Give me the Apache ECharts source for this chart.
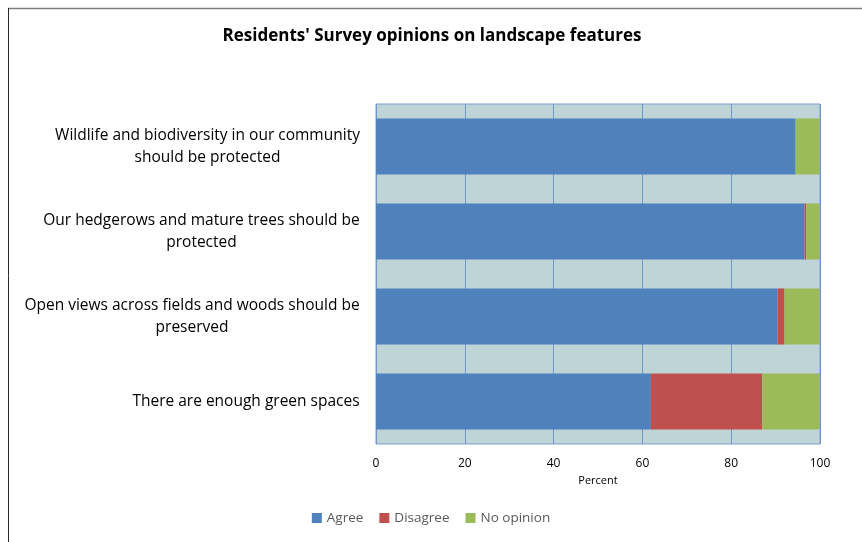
<!DOCTYPE html>
<html>
<head>
<meta charset="utf-8">
<script src="https://cdn.jsdelivr.net/npm/echarts@6/dist/echarts.min.js"></script>
<style>
html,body{margin:0;padding:0;background:#fff;}
#chart{width:862px;height:542px;}
</style>
</head>
<body>
<div id="chart"></div>
<script>
var categories = [
  "Wildlife and biodiversity in our community\nshould be protected",
  "Our hedgerows and mature trees should be\nprotected",
  "Open views across fields and woods should be\npreserved",
  "There are enough green spaces"
];
var agree = [94.5, 96.5, 90.4, 61.9];
var disagree = [0, 0.4, 1.6, 25.1];
var noOpinion = [5.5, 3.1, 8.0, 13.0];
var xTicks = [0, 20, 40, 60, 80, 100];

var FONT = "'Open Sans', 'Noto Sans', sans-serif";
var LABEL_SIZE = 15.5;

// measure widths so multi-line labels are centred within their own block
var cv = document.createElement('canvas').getContext('2d');
cv.font = LABEL_SIZE + 'px ' + FONT;
var rich = {};
categories.forEach(function (c, i) {
  var w = 0;
  c.split('\n').forEach(function (l) { w = Math.max(w, cv.measureText(l).width); });
  rich['l' + i] = { width: Math.ceil(w), align: 'center', fontSize: LABEL_SIZE, fontFamily: FONT, color: '#000', lineHeight: 22 };
});

var chart = echarts.init(document.getElementById('chart'), null, { renderer: 'canvas' });
chart.setOption({
  animation: false,
  backgroundColor: '#fff',
  graphic: [
    { type: 'line', silent: true, shape: { x1: 8, y1: 8.5, x2: 870, y2: 8.5 }, style: { stroke: '#7f7f7f', lineWidth: 1.5 } },
    { type: 'line', silent: true, shape: { x1: 8.5, y1: 8, x2: 8.5, y2: 560 }, style: { stroke: '#2a2a2a', lineWidth: 1 } }
  ],
  title: {
    text: "Residents' Survey opinions on landscape features",
    left: 427, top: 23, textAlign: 'center',
    textStyle: { fontFamily: FONT, fontWeight: 'bold', fontSize: 17, color: '#000' }
  },
  legend: {
    bottom: 12, left: 'center',
    itemWidth: 10, itemHeight: 10, itemGap: 16,
    icon: 'rect',
    textStyle: { fontFamily: FONT, fontSize: 13.5, color: '#595959' },
    data: ['Agree', 'Disagree', 'No opinion']
  },
  grid: { left: 376, right: 42, top: 104, bottom: 98, show: true, backgroundColor: '#bfd4d7', borderColor: '#7a9fd1', borderWidth: 1 },
  xAxis: {
    type: 'value', min: 0, max: 100, interval: 20,
    name: 'Percent', nameLocation: 'middle', nameGap: 29,
    nameTextStyle: { fontFamily: FONT, fontSize: 11, color: '#000' },
    axisLine: { show: false }, axisTick: { show: false },
    axisLabel: { fontFamily: FONT, fontSize: 12, color: '#000', margin: 14,
      formatter: function (v) { return xTicks.indexOf(v) >= 0 ? String(v) : ''; } },
    splitLine: { show: true, lineStyle: { color: '#6f97c8', width: 1 } }
  },
  yAxis: {
    type: 'category', data: categories, inverse: true,
    axisLine: { show: false }, axisTick: { show: false },
    axisLabel: {
      margin: 16,
      formatter: function (v, i) {
        return v.split('\n').map(function (l) { return '{l' + i + '|' + l + '}'; }).join('\n');
      },
      rich: rich
    }
  },
  series: [
    { name: 'Agree', type: 'bar', stack: 's', data: agree, barWidth: '66%', itemStyle: { color: '#4f81bd' } },
    { name: 'Disagree', type: 'bar', stack: 's', data: disagree, itemStyle: { color: '#c0504d' } },
    { name: 'No opinion', type: 'bar', stack: 's', data: noOpinion, itemStyle: { color: '#9bbb59' } }
  ]
});
</script>
</body>
</html>
